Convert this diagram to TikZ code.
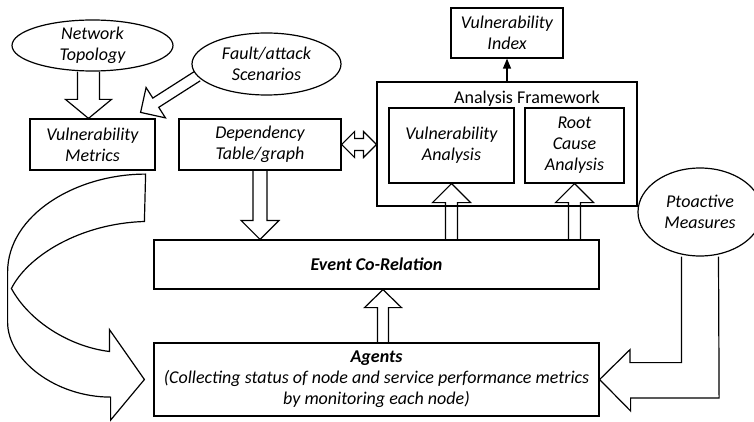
\documentclass[tikz,border=0pt]{standalone}
\usepackage{fontspec}
\setmainfont{Carlito}
\usepackage{tikz}
\usetikzlibrary{shapes,calc,arrows.meta}

% block arrow: from, to, half shaft, half head, head length
\newcommand{\blkarrow}[5]{%
  \path ($(#2)!#5!(#1)$) coordinate (hb);
  \draw[blk] ($(#1)!#3!90:(#2)$) -- ($(hb)!#3!90:(#2)$) -- ($(hb)!#4!90:(#2)$)
    -- (#2) -- ($(hb)!#4!-90:(#2)$) -- ($(hb)!#3!-90:(#2)$) -- ($(#1)!#3!-90:(#2)$);
}
% double block arrow
\newcommand{\dblarrow}[5]{%
  \path ($(#1)!#5!(#2)$) coordinate (ha) ($(#2)!#5!(#1)$) coordinate (hb);
  \draw[blk] (#1) -- ($(ha)!#4!90:(#2)$) -- ($(ha)!#3!90:(#2)$) -- ($(hb)!#3!-90:(#1)$)
    -- ($(hb)!#4!-90:(#1)$) -- (#2) -- ($(hb)!#4!90:(#1)$) -- ($(hb)!#3!90:(#1)$)
    -- ($(ha)!#3!-90:(#2)$) -- ($(ha)!#4!-90:(#2)$) -- cycle;
}

\begin{document}
\begin{tikzpicture}[x=1pt,y=1pt,
      every node/.style={font=\fontsize{18}{21}\selectfont\itshape},
      box/.style={draw,line width=1.2pt,align=center,inner sep=0pt},
      oval/.style={draw,ellipse,line width=1.2pt,align=center,inner xsep=0pt,inner ysep=-12pt},
      sz/.style 2 args={minimum width=#1pt,minimum height=#2pt},
      blk/.style={draw,line width=1.2pt,line join=miter},
      thin/.style={line width=1.2pt,-{Triangle[length=10pt,width=8pt]}}]
  \useasboundingbox (0,0) rectangle (754,421);

  % inputs
  \node[oval,sz={161}{51}] (nt) at (92.5,375.5) {Network\\Topology};
  \node[oval,sz={149}{62}] (fault) at (266.5,357) {Fault/attack\\Scenarios};
  \node[box,sz={125}{51}] (vm) at (92.5,276.5) {Vulnerability\\Metrics};
  \node[box,sz={162}{51}] (dep) at (260,276.5) {Dependency\\Table/graph};

  % analysis framework
  \node[box,sz={260}{124}] (af) at (507,277) {};
  \node[font=\fontsize{18}{21}\selectfont] (aflbl) at (527,322) {Analysis Framework};
  \node[box,sz={112}{50}] (vi) at (507,388) {Vulnerability\\Index};
  \node[box,sz={125}{75}] (va) at (451.5,275.5) {Vulnerability\\Analysis};
  \node[box,sz={99}{75}] (rca) at (574.5,275.5) {Root\\Cause\\Analysis};

  % bottom
  \node[box,sz={445}{49}] (ecr) at (376.5,156.5) {\bfseries Event Co-Relation};
  \node[box,sz={445}{73}] (ag) at (376.5,41.5) {{\bfseries Agents}\\(Collecting status of node and service performance metrics\\by monitoring each node)};
  \node[oval,sz={124}{88}] (ptoa) at (700,209) {Ptoactive\\Measures};

  % block arrows
  \coordinate (nt-o) at ([xshift=-4pt]nt.south);
  \coordinate (vm-i) at ([xshift=-4pt]vm.north);
  \blkarrow{nt-o}{vm-i}{11pt}{23pt}{19pt}
  \coordinate (fault-o) at (fault.190);
  \coordinate (vm-j) at ([xshift=-15pt,yshift=6pt]vm.north east);
  \blkarrow{fault-o}{vm-j}{5.5pt}{18pt}{18pt}
  \coordinate (ecr-d) at (dep.south |- ecr.north);
  \blkarrow{dep.south}{ecr-d}{7pt}{19pt}{19pt}
  \coordinate (ecr-va) at (va.south |- ecr.north);
  \blkarrow{ecr-va}{va.south}{6pt}{19pt}{19pt}
  \coordinate (ecr-rca) at (rca.south |- ecr.north);
  \blkarrow{ecr-rca}{rca.south}{6pt}{19pt}{19pt}
  \coordinate (ag-o) at ([xshift=6.5pt]ag.north);
  \coordinate (ecr-a) at ([xshift=6.5pt]ecr.south);
  \blkarrow{ag-o}{ecr-a}{5.5pt}{18.5pt}{18pt}
  \coordinate (af-d) at (dep.east -| af.west);
  \dblarrow{dep.east}{af-d}{6pt}{13pt}{13pt}
  \draw[thin] (af.north) -- (vi.south);

  % curved arrow
  \coordinate (cv0) at ([xshift=-10pt,yshift=-3.5pt]vm.south east);
  \coordinate (cv1) at ([xshift=-9pt]ag.west);
  \draw[blk] (cv0) .. controls +(-70,0) and +(0,57) .. ++(-138,-98) -- ++(0,-50)
    .. controls +(0,-38) and +(-55,0) .. ++(103,-75) -- ++(0,-23) -- (cv1)
    -- ++(-35,50) -- ++(0,-22) .. controls +(-40,5) and +(18,-33) .. ++(-98,63)
    .. controls +(16,32) and +(-65,-2) .. ++(133,67) -- cycle;

  % elbow arrow
  \coordinate (pm0) at ([xshift=-18.5pt]ptoa.south);
  \coordinate (pm1) at ([xshift=18.5pt]ptoa.south);
  \draw[blk] (pm0) -- ++(0,-106) -- ++(-51.5,0) -- ++(0,13) -- (ag.east)
    -- ++(31,-31.5) -- ++(0,13) -- ++(88.5,0) -- (pm1);
\end{tikzpicture}
\end{document}
